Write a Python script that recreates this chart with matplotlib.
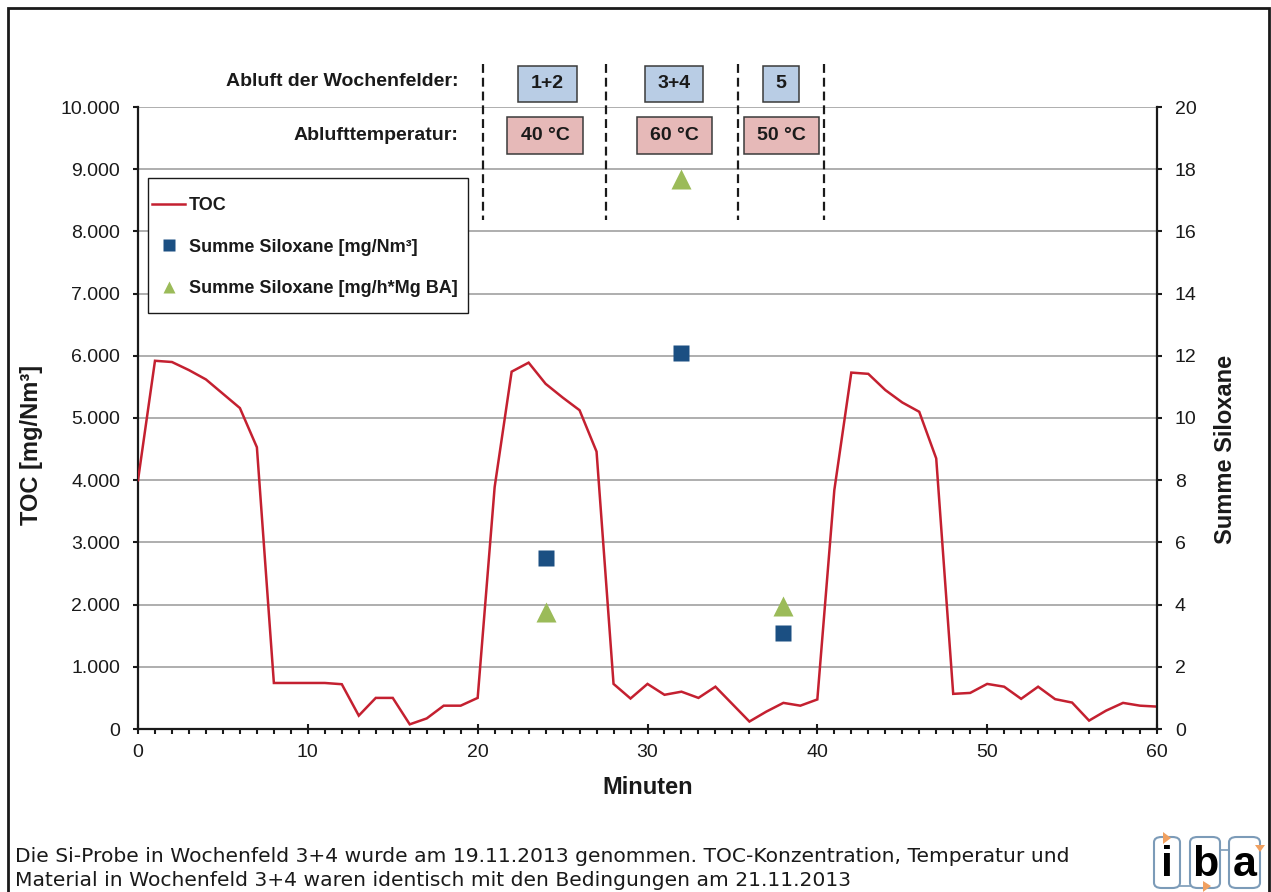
import matplotlib
matplotlib.use("Agg")
import matplotlib.pyplot as plt
from matplotlib.patches import Rectangle, FancyBboxPatch, Polygon
from matplotlib.lines import Line2D
from matplotlib.ticker import MultipleLocator, FuncFormatter

plt.rcParams['font.family'] = ['Liberation Sans', 'DejaVu Sans']

# ---- data -------------------------------------------------------------
minutes = list(range(61))
toc = [4000, 5920, 5900, 5770, 5620, 5390, 5160, 4530, 740, 740,
       740, 740, 720, 215, 500, 500, 75, 170, 375, 375,
       500, 3890, 5745, 5890, 5550, 5330, 5125, 4460, 725, 490,
       725, 550, 600, 500, 680, 400, 120, 280, 420, 375,
       475, 3840, 5730, 5710, 5450, 5250, 5100, 4350, 565, 580,
       725, 680, 485, 680, 480, 425, 135, 295, 420, 375,
       360]

sample_minutes = [24, 32, 38]
siloxane_conc = [5.5, 12.1, 3.1]     # mg/Nm³
siloxane_load = [3.75, 17.7, 3.95]   # mg/h*Mg BA

field_labels = ["1+2", "3+4", "5"]
temp_labels = ["40 °C", "60 °C", "50 °C"]

RED = '#C42030'
BLUE = '#1B4F82'
GREEN = '#9BBB59'

# ---- figure -----------------------------------------------------------
W, H = 1271, 892
fig = plt.figure(figsize=(W / 100, H / 100), dpi=100)
fig.patch.set_facecolor('white')


def fx(px):
    return px / W


def fy(py):
    return 1 - py / H


ax = fig.add_axes([fx(138), fy(729), (1157 - 138) / W, (729 - 107) / H])
ax2 = ax.twinx()

ax.plot(minutes, toc, color=RED, lw=1.8, zorder=3, solid_joinstyle='miter')
ax2.plot(sample_minutes, siloxane_conc, ls='none', marker='s', ms=12,
         color=BLUE, mec='none', zorder=4)
ax2.plot(sample_minutes, siloxane_load, ls='none', marker='^', ms=15,
         color=GREEN, mec='none', zorder=4)

ax.set_xlim(0, 60)
ax.set_ylim(0, 10000)
ax2.set_ylim(0, 20)

ax.xaxis.set_major_locator(MultipleLocator(10))
ax.xaxis.set_minor_locator(MultipleLocator(1))
ax.yaxis.set_major_locator(MultipleLocator(1000))
ax2.yaxis.set_major_locator(MultipleLocator(2))
ax.yaxis.set_major_formatter(
    FuncFormatter(lambda v, p: f"{v:,.0f}".replace(",", ".")))

ax.grid(axis='y', color='#A8A8A8', lw=1.3)
ax.set_axisbelow(True)

for a in (ax, ax2):
    a.spines['top'].set_visible(False)
ax2.spines['left'].set_visible(False)
ax2.spines['bottom'].set_visible(False)
ax.spines['right'].set_visible(False)
for s in ('left', 'bottom'):
    ax.spines[s].set_linewidth(1.6)
    ax.spines[s].set_color('#1a1a1a')
ax2.spines['right'].set_linewidth(1.6)
ax2.spines['right'].set_color('#1a1a1a')

ax.tick_params(axis='x', which='major', direction='inout', length=7,
               width=1.5, labelsize=14, pad=7, colors='#1a1a1a')
ax.tick_params(axis='x', which='minor', direction='out', length=3.8,
               width=1.5, colors='#1a1a1a')
ax.tick_params(axis='y', direction='out', length=3.8, width=1.5,
               labelsize=14, pad=9, colors='#1a1a1a')
ax2.tick_params(axis='y', direction='out', length=3.8, width=1.5,
                labelsize=14, pad=9, colors='#1a1a1a')

ax.set_xlabel("Minuten", fontsize=17, fontweight='bold', color='#1a1a1a')
ax.xaxis.set_label_coords(0.5, -(787 - 729) / 622)
ax.xaxis.label.set_va('center')

ax.set_ylabel("TOC [mg/Nm³]", fontsize=17, fontweight='bold', color='#1a1a1a')
ax.yaxis.set_label_coords((32 - 138) / 1019, (729 - 445) / 622)
ax.yaxis.label.set_va('center')

ax2.set_ylabel("Summe Siloxane", fontsize=17, fontweight='bold',
               color='#1a1a1a', rotation=90)
ax2.yaxis.set_label_coords((1225 - 138) / 1019, (729 - 449) / 622)
ax2.yaxis.label.set_va('center')
ax2.yaxis.label.set_ha('center')

# ---- legend -----------------------------------------------------------
handles = [
    Line2D([], [], color=RED, lw=1.8),
    Line2D([], [], ls='none', marker='s', ms=8, color=BLUE, mec='none'),
    Line2D([], [], ls='none', marker='^', ms=9, color=GREEN, mec='none'),
]
labels = ["TOC", "Summe Siloxane [mg/Nm³]", "Summe Siloxane [mg/h*Mg BA]"]
fig.add_artist(Rectangle((fx(148), fy(313)), 320 / W, 135 / H,
                         transform=fig.transFigure, facecolor='white',
                         edgecolor='#1a1a1a', lw=1.0, zorder=4))
leg = fig.legend(handles, labels, loc='center left',
                 bbox_to_anchor=(fx(152), fy(247)), frameon=False,
                 borderpad=0, borderaxespad=0, handlelength=1.85,
                 handletextpad=0.2, labelspacing=1.35,
                 prop={'size': 13, 'weight': 'bold'})
leg.set_zorder(5)
for t in leg.get_texts():
    t.set_color('#1a1a1a')

# ---- header annotation (fields and temperatures) ---------------------
fig.text(fx(458), fy(82), "Abluft der Wochenfelder:", ha='right',
         va='center', fontsize=14, fontweight='bold', color='#1a1a1a')
fig.text(fx(458), fy(135), "Ablufttemperatur:", ha='right',
         va='center', fontsize=14, fontweight='bold', color='#1a1a1a')

field_boxes = [(518, 577), (645, 703), (763, 799)]
temp_boxes = [(507, 583), (637, 712), (744, 819)]
for (x0, x1), lab in zip(field_boxes, field_labels):
    fig.add_artist(Rectangle((fx(x0), fy(102)), (x1 - x0) / W, 36 / H,
                             transform=fig.transFigure, facecolor='#B9CDE5',
                             edgecolor='#3a3a3a', lw=1.1, zorder=2))
    fig.text(fx((x0 + x1) / 2), fy(84), lab, ha='center', va='center',
             fontsize=14, fontweight='bold', color='#1a1a1a', zorder=3)
for (x0, x1), lab in zip(temp_boxes, temp_labels):
    fig.add_artist(Rectangle((fx(x0), fy(154)), (x1 - x0) / W, 37 / H,
                             transform=fig.transFigure, facecolor='#E6B9B8',
                             edgecolor='#3a3a3a', lw=1.1, zorder=2))
    fig.text(fx((x0 + x1) / 2), fy(136), lab, ha='center', va='center',
             fontsize=14, fontweight='bold', color='#1a1a1a', zorder=3)

for xd in (483, 606, 738, 824):
    fig.add_artist(Line2D([fx(xd), fx(xd)], [fy(64), fy(220)],
                          transform=fig.transFigure, color='#1a1a1a',
                          lw=1.6, ls=(0, (4, 2.2)), zorder=2))

# ---- footnote ---------------------------------------------------------
fig.text(fx(15), fy(857),
         "Die Si-Probe in Wochenfeld 3+4 wurde am 19.11.2013 genommen. "
         "TOC-Konzentration, Temperatur und",
         ha='left', va='center', fontsize=14.6, family='DejaVu Sans',
         color='#1a1a1a')
fig.text(fx(15), fy(881),
         "Material in Wochenfeld 3+4 waren identisch mit den Bedingungen "
         "am 21.11.2013",
         ha='left', va='center', fontsize=14.6, family='DejaVu Sans',
         color='#1a1a1a')

# ---- logo -------------------------------------------------------------
logo_edge = '#7C9BB8'
for (x0, x1), ch in zip([(1154, 1180), (1190, 1220), (1229, 1260)],
                        ["i", "b", "a"]):
    fig.add_artist(FancyBboxPatch((fx(x0), fy(888)), (x1 - x0) / W, 51 / H,
                                  boxstyle="round,pad=0,rounding_size=0.006",
                                  transform=fig.transFigure, facecolor='white',
                                  edgecolor=logo_edge, lw=1.5, zorder=2))
    fig.text(fx((x0 + x1) / 2), fy(876), ch, ha='center', va='baseline',
             fontsize=31, fontweight='bold', color='black', zorder=3)
fig.add_artist(Line2D([fx(1180), fx(1190)], [fy(886), fy(886)],
                      transform=fig.transFigure, color=logo_edge, lw=1.2))
fig.add_artist(Line2D([fx(1220), fx(1229)], [fy(850), fy(850)],
                      transform=fig.transFigure, color=logo_edge, lw=1.2))
ORANGE = '#F0A060'
for pts in ([(1163, 832), (1163, 844), (1171, 838)],
            [(1203, 881), (1203, 892), (1211, 886)],
            [(1255, 845), (1265, 845), (1260, 852)]):
    fig.add_artist(Polygon([(fx(a), fy(b)) for a, b in pts], closed=True,
                           transform=fig.transFigure, facecolor=ORANGE,
                           edgecolor='none', zorder=4))

# ---- outer frame ------------------------------------------------------
fig.add_artist(Rectangle((fx(8), fy(900)), (1269 - 8) / W, 892 / H,
                         transform=fig.transFigure, facecolor='none',
                         edgecolor='#1a1a1a', lw=2.0, zorder=6))

fig.savefig("out.png", dpi=100)
